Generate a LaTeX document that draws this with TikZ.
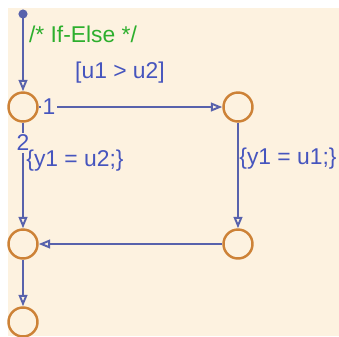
\documentclass[tikz,border=0pt]{standalone}
\usepackage{fontspec}
\setmainfont{Liberation Sans}
\usetikzlibrary{arrows.meta}
\definecolor{chartbg}{RGB}{253,242,224}
\definecolor{junc}{RGB}{205,130,55}
\definecolor{trans}{RGB}{88,98,172}
\definecolor{lbl}{RGB}{70,85,190}
\definecolor{cmt}{RGB}{45,175,45}

\tikzset{
junction/.style={circle,draw=junc,line width=1.4pt,minimum size=0.58cm,inner sep=0pt},
trn/.style={draw=trans,line width=1.1pt,-{Triangle[open,length=6.5pt,width=5pt]}},
lab/.style={text=lbl,font=\fontsize{13}{15}\selectfont,inner sep=1pt},
}

\begin{document}
\begin{tikzpicture}[x=0.02cm,y=-0.02cm]

\fill[white] (0,0) rectangle (339,336);
\fill[chartbg] (8,8) rectangle (339,336);
\useasboundingbox (0,0) rectangle (339,336);


\coordinate (dflt) at (23,14);
\node[junction] (j1) at (23,107) {};
\node[junction] (j2) at (238,107) {};
\node[junction] (j3) at (238,244) {};
\node[junction] (j4) at (23,244) {};
\node[junction] (j5) at (23,322) {};


\fill[trans] (dflt) circle (2.6pt);
\draw[trn] (dflt) -- (j1);
\draw[trn] (j1) -- (j2);
\draw[trn] (j1) -- (j4);
\draw[trn] (j2) -- (j3);
\draw[trn] (j3) -- (j4);
\draw[trn] (j4) -- (j5);


\node[lab,text=cmt] (cmt) at (83,34) {/* If-Else */};
\node[lab] (cond) at (120,73) {[u1 > u2]};
\node[lab,fill=chartbg] (n1) at (49,107) {1};
\node[lab,fill=chartbg] (n2) at (23,143) {2};
\node[lab] (act2) at (75,161) {\{y1 = u2;\}};
\node[lab] (act1) at (288,159) {\{y1 = u1;\}};

\end{tikzpicture}
\end{document}
